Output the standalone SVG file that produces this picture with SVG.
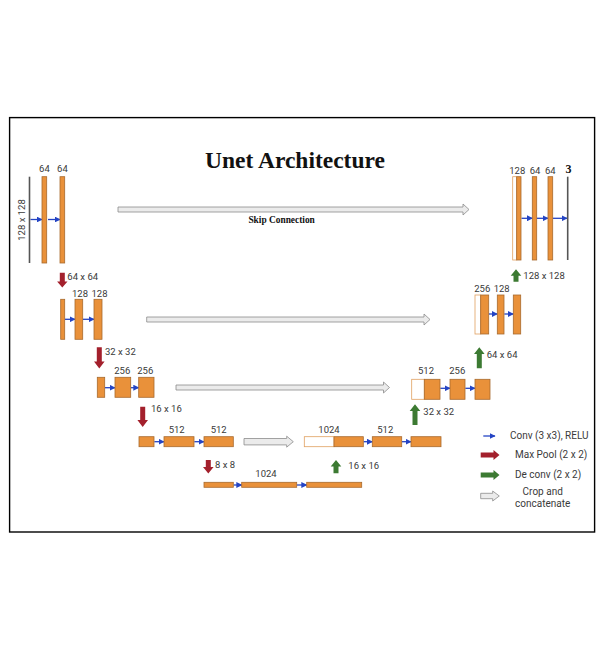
<svg xmlns="http://www.w3.org/2000/svg" width="603" height="655" viewBox="0 0 603 655">
<defs>
<style>
.o{fill:#E9913A;stroke:#A86A2E;stroke-width:0.8}
.w{fill:#ffffff;stroke:#E0A060;stroke-width:0.8}
.g{stroke:#555;stroke-width:1.6}
.b{stroke:#2444C4;stroke-width:1.3;fill:none}
.sk{fill:#ebebeb;stroke:#8c8c8c;stroke-width:0.8}
.mp{fill:#A3202C}
.dc{fill:#3C7A32}
.t{font-family:Roboto,"Liberation Sans",sans-serif;font-size:9.5px;fill:#3a3a3a}
.lg{font-family:Roboto,"Liberation Sans",sans-serif;font-size:10px;fill:#3a3a3a}
</style>
<marker id="ah" viewBox="0 0 10 10" refX="9" refY="5" markerWidth="4.6" markerHeight="4.6" orient="auto" markerUnits="strokeWidth">
<path d="M0,0 L10,5 L0,10 z" fill="#2444C4"/>
</marker>
</defs>
<rect x="0" y="0" width="603" height="655" fill="#ffffff"/>
<rect x="9.6" y="117.6" width="585" height="414.4" fill="#ffffff" stroke="#000" stroke-width="1.4"/>
<text x="295" y="168.3" text-anchor="middle" font-family="'Liberation Serif',serif" font-weight="bold" font-size="23.5" fill="#111">Unet Architecture</text>
<text x="281.6" y="223.3" text-anchor="middle" font-family="'Liberation Serif',serif" font-weight="bold" font-size="9.4" fill="#111">Skip Connection</text>

<g id="connectors">
<g id="skips">
<polygon class="sk" points="118,207 463,207 463,204 469,209.5 463,215 463,212 118,212"/>
<polygon class="sk" points="146.7,317 424,317 424,314 430,319.5 424,325 424,322 146.7,322"/>
<polygon class="sk" points="176,385 383.5,385 383.5,382 389.5,387.5 383.5,393 383.5,390 176,390"/>
<polygon class="sk" points="244,438.5 286.7,438.5 286.7,436.2 293.3,441.7 286.7,447.2 286.7,444.9 244,444.9"/>
</g>
<g id="convs">
<line class="b" x1="30.5" y1="219.5" x2="42" y2="219.5" marker-end="url(#ah)"/>
<line class="b" x1="48" y1="219.5" x2="60" y2="219.5" marker-end="url(#ah)"/>
<line class="b" x1="521.5" y1="218.3" x2="532.3" y2="218.3" marker-end="url(#ah)"/>
<line class="b" x1="537" y1="218.3" x2="548" y2="218.3" marker-end="url(#ah)"/>
<line class="b" x1="553" y1="218.3" x2="567" y2="218.3" marker-end="url(#ah)"/>
<line class="b" x1="65" y1="319.3" x2="75" y2="319.3" marker-end="url(#ah)"/>
<line class="b" x1="83" y1="319.3" x2="94" y2="319.3" marker-end="url(#ah)"/>
<line class="b" x1="489" y1="314" x2="497.3" y2="314" marker-end="url(#ah)"/>
<line class="b" x1="504.3" y1="314" x2="513.3" y2="314" marker-end="url(#ah)"/>
<line class="b" x1="105" y1="387.7" x2="115" y2="387.7" marker-end="url(#ah)"/>
<line class="b" x1="131" y1="387.7" x2="138.7" y2="387.7" marker-end="url(#ah)"/>
<line class="b" x1="440.3" y1="388.3" x2="450" y2="388.3" marker-end="url(#ah)"/>
<line class="b" x1="465.3" y1="388.3" x2="475" y2="388.3" marker-end="url(#ah)"/>
<line class="b" x1="154.3" y1="441.7" x2="164" y2="441.7" marker-end="url(#ah)"/>
<line class="b" x1="194.3" y1="441.7" x2="204" y2="441.7" marker-end="url(#ah)"/>
<line class="b" x1="363.6" y1="441.7" x2="372.3" y2="441.7" marker-end="url(#ah)"/>
<line class="b" x1="402" y1="441.7" x2="411" y2="441.7" marker-end="url(#ah)"/>
<line class="b" x1="233.6" y1="485" x2="241.7" y2="485" marker-end="url(#ah)"/>
<line class="b" x1="297" y1="485" x2="306.7" y2="485" marker-end="url(#ah)"/>
</g>
<g id="maxpools">
<polygon class="mp" points="59.8,272.7 64.8,272.7 64.8,281.5 67.5,281.5 62.3,287.5 57.1,281.5 59.8,281.5"/>
<polygon class="mp" points="96.8,347.3 101.8,347.3 101.8,361.5 104.6,361.5 99.3,368.5 94,361.5 96.8,361.5"/>
<polygon class="mp" points="140.2,406.7 145.2,406.7 145.2,420 148,420 142.7,427 137.4,420 140.2,420"/>
<polygon class="mp" points="205.8,460 210.8,460 210.8,467 213.6,467 208.3,473.5 203,467 205.8,467"/>
</g>
<g id="deconvs">
<polygon class="dc" points="333.5,473.3 338.5,473.3 338.5,466.5 341.3,466.5 336,460 330.7,466.5 333.5,466.5"/>
<polygon class="dc" points="412.5,425 417.5,425 417.5,411 420.3,411 415,404.3 409.7,411 412.5,411"/>
<polygon class="dc" points="476.8,368.3 481.8,368.3 481.8,354 484.6,354 479.3,347.3 474,354 476.8,354"/>
<polygon class="dc" points="513.5,281.7 518.5,281.7 518.5,275.8 521.3,275.8 516,269.3 510.7,275.8 513.5,275.8"/>
</g>
</g>

<g id="enc1">
<line class="g" x1="29.5" y1="176.7" x2="29.5" y2="263"/>
<rect class="o" x="42" y="176.7" width="4.7" height="86.3"/>
<rect class="o" x="60" y="176.7" width="4.7" height="86.3"/>
<text class="t" x="44.4" y="171.7" text-anchor="middle">64</text>
<text class="t" x="62.4" y="171.7" text-anchor="middle">64</text>
<text class="t" transform="translate(24.8,220) rotate(-90)" text-anchor="middle">128 x 128</text>
</g>
<g id="enc2">
<rect class="o" x="60.7" y="299.3" width="4" height="40"/>
<rect class="o" x="75" y="299.3" width="7.7" height="40"/>
<rect class="o" x="94" y="299.3" width="8" height="40"/>
<text class="t" x="80" y="296.7" text-anchor="middle">128</text>
<text class="t" x="99.5" y="296.7" text-anchor="middle">128</text>
<text class="t" x="67.3" y="280">64 x 64</text>
</g>
<g id="enc3">
<rect class="o" x="97.3" y="377.3" width="7.4" height="20"/>
<rect class="o" x="115" y="377.3" width="15.7" height="20"/>
<rect class="o" x="138.7" y="377.3" width="15.3" height="20"/>
<text class="t" x="122.3" y="374" text-anchor="middle">256</text>
<text class="t" x="145.3" y="374" text-anchor="middle">256</text>
<text class="t" x="105" y="355">32 x 32</text>
</g>
<g id="enc4">
<rect class="o" x="139" y="436.7" width="15" height="10"/>
<rect class="o" x="164" y="436.7" width="30" height="10"/>
<rect class="o" x="204" y="436.7" width="29.3" height="10"/>
<text class="t" x="176.7" y="432.7" text-anchor="middle">512</text>
<text class="t" x="218.7" y="432.7" text-anchor="middle">512</text>
<text class="t" x="151" y="411.7">16 x 16</text>
</g>
<g id="bottleneck">
<rect class="o" x="204" y="482.3" width="29.3" height="5"/>
<rect class="o" x="241.7" y="482.3" width="55" height="5"/>
<rect class="o" x="306.7" y="482.3" width="55" height="5"/>
<text class="t" x="266" y="476.7" text-anchor="middle">1024</text>
<text class="t" x="215" y="467.7">8 x 8</text>
</g>
<g id="dec4">
<rect class="w" x="304.3" y="436.7" width="29.7" height="10"/>
<rect class="o" x="334" y="436.7" width="29.3" height="10"/>
<rect class="o" x="372.3" y="436.7" width="29.4" height="10"/>
<rect class="o" x="411" y="436.7" width="30" height="10"/>
<text class="t" x="329" y="432.7" text-anchor="middle">1024</text>
<text class="t" x="385.3" y="432.7" text-anchor="middle">512</text>
<text class="t" x="348.3" y="469">16 x 16</text>
</g>
<g id="dec3">
<rect class="w" x="411.7" y="379.3" width="12.6" height="20"/>
<rect class="o" x="424.3" y="379.3" width="15.7" height="20"/>
<rect class="o" x="450" y="379.3" width="15" height="20"/>
<rect class="o" x="475" y="379.3" width="15" height="20"/>
<text class="t" x="426" y="374" text-anchor="middle">512</text>
<text class="t" x="457.3" y="374" text-anchor="middle">256</text>
<text class="t" x="423.3" y="415">32 x 32</text>
</g>
<g id="dec2">
<rect class="w" x="475" y="295" width="5.7" height="39"/>
<rect class="o" x="480.7" y="295" width="8" height="39"/>
<rect class="o" x="497.3" y="295" width="6.7" height="39"/>
<rect class="o" x="513.3" y="295" width="7.4" height="39"/>
<text class="t" x="482.3" y="292.3" text-anchor="middle">256</text>
<text class="t" x="501.7" y="292.3" text-anchor="middle">128</text>
<text class="t" x="486.7" y="358.3">64 x 64</text>
</g>
<g id="dec1">
<rect class="w" x="512.7" y="176.7" width="4" height="83.3"/>
<rect class="o" x="516.7" y="176.7" width="4.3" height="83.3"/>
<rect class="o" x="532.3" y="176.7" width="4.4" height="83.3"/>
<rect class="o" x="548" y="176.7" width="4.7" height="83.3"/>
<line class="g" x1="567.7" y1="176.7" x2="567.7" y2="260"/>
<text class="t" x="517.3" y="174" text-anchor="middle">128</text>
<text class="t" x="535" y="174" text-anchor="middle">64</text>
<text class="t" x="550.3" y="174" text-anchor="middle">64</text>
<text x="568.5" y="173.3" text-anchor="middle" font-family="'Liberation Serif',serif" font-weight="bold" font-size="12" fill="#111">3</text>
<text class="t" x="523.3" y="279.3">128 x 128</text>
</g>
<g id="legend">
<line class="b" x1="483.3" y1="436" x2="495" y2="436" marker-end="url(#ah)"/>
<text class="lg" x="510" y="439.3">Conv (3 x3), RELU</text>
<polygon class="mp" points="480.7,452.5 493.5,452.5 493.5,450 499.5,455 493.5,460 493.5,457.5 480.7,457.5"/>
<text class="lg" x="515" y="458.3">Max Pool (2 x 2)</text>
<polygon class="dc" points="480.7,472.5 493.5,472.5 493.5,470 499.5,475 493.5,480 493.5,477.5 480.7,477.5"/>
<text class="lg" x="515" y="478.3">De conv (2 x 2)</text>
<polygon class="sk" points="480.7,493.3 492.7,493.3 492.7,491 499.3,496 492.7,501 492.7,498.7 480.7,498.7"/>
<text class="lg" x="542.7" y="495" text-anchor="middle">Crop and</text>
<text class="lg" x="542.7" y="506.7" text-anchor="middle">concatenate</text>
</g>
</svg>
